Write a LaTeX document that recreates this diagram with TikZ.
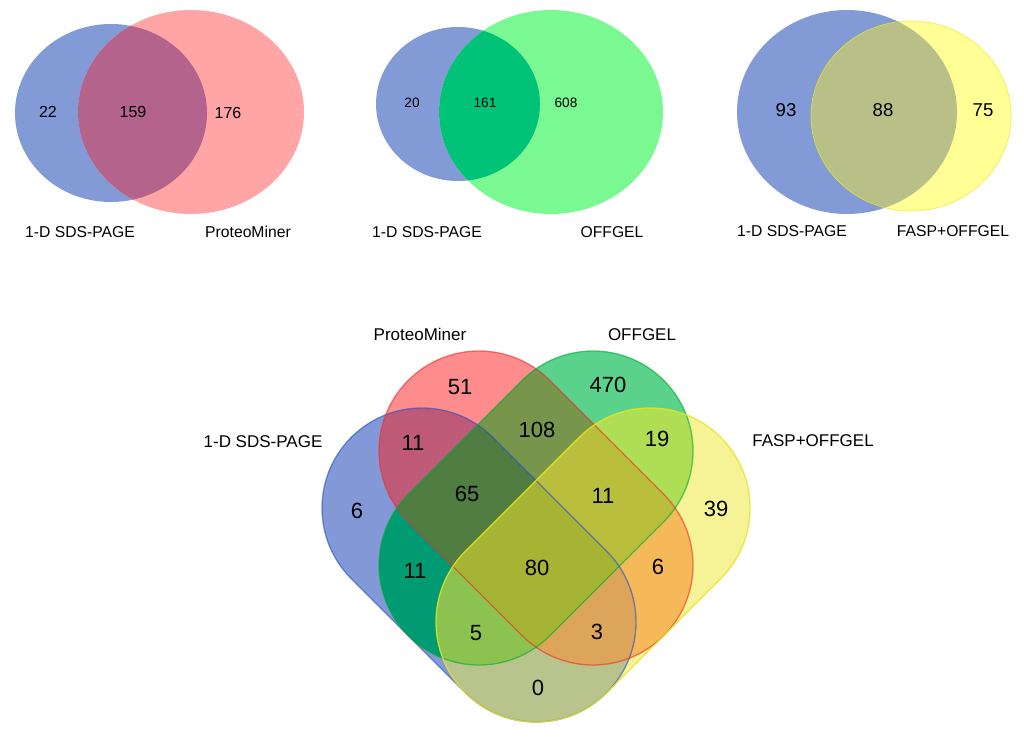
\documentclass[tikz,border=0pt]{standalone}
\usepackage{fontspec}
\setmainfont{Liberation Sans}
\definecolor{cB}{RGB}{130,152,215}
\definecolor{cR}{RGB}{255,140,140}
\definecolor{cG}{RGB}{90,210,140}
\definecolor{cY}{RGB}{246,243,150}
\definecolor{cBR}{RGB}{190,90,120}
\definecolor{cBG}{RGB}{0,155,115}
\definecolor{cBY}{RGB}{185,195,140}
\definecolor{cRG}{RGB}{120,150,75}
\definecolor{cRY}{RGB}{245,185,90}
\definecolor{cGY}{RGB}{175,222,85}
\definecolor{cBRG}{RGB}{80,125,65}
\definecolor{cBRY}{RGB}{220,165,90}
\definecolor{cBGY}{RGB}{140,195,80}
\definecolor{cRGY}{RGB}{185,190,60}
\definecolor{cBRGY}{RGB}{165,180,50}
\definecolor{lB}{RGB}{40,80,200}
\definecolor{lR}{RGB}{235,45,45}
\definecolor{lG}{RGB}{0,170,50}
\definecolor{lY}{RGB}{232,228,30}
% top panels
\definecolor{tB}{RGB}{130,155,215}
\definecolor{tR}{RGB}{255,165,165}
\definecolor{tBR}{RGB}{180,100,140}
\definecolor{tG}{RGB}{122,248,145}
\definecolor{tBG}{RGB}{0,195,120}
\definecolor{tY}{RGB}{255,255,150}
\definecolor{tBY}{RGB}{185,192,135}
\newcommand\shB{(422,508) ++(-45:100) arc[start angle=-45,end angle=-225,radius=100] -- ++(114,114) arc[start angle=135,end angle=-45,radius=100] -- cycle}
\newcommand\shR{(479,451) ++(-45:100) arc[start angle=-45,end angle=-225,radius=100] -- ++(114,114) arc[start angle=135,end angle=-45,radius=100] -- cycle}
\newcommand\shG{(593,451) ++(45:100) arc[start angle=45,end angle=-135,radius=100] -- ++(-114,114) arc[start angle=225,end angle=45,radius=100] -- cycle}
\newcommand\shY{(650,508) ++(45:100) arc[start angle=45,end angle=-135,radius=100] -- ++(-114,114) arc[start angle=225,end angle=45,radius=100] -- cycle}
\newcommand\eBa{(111,113) ellipse[x radius=96,y radius=89]}
\newcommand\eRa{(191,112) ellipse[x radius=113,y radius=102]}
\newcommand\eBb{(458,104) ellipse[x radius=82,y radius=77]}
\newcommand\eGb{(551,112) ellipse[x radius=112,y radius=102]}
\newcommand\eBc{(847,112) ellipse[x radius=110,y radius=102]}
\newcommand\eYc{(911,116) ellipse[x radius=100,y radius=95]}
\begin{document}
\begin{tikzpicture}[x=1pt,y=-1pt,
  lab/.style={font=\fontsize{15.7}{18}\selectfont, inner sep=0pt},
  biglab/.style={font=\fontsize{17}{20}\selectfont, inner sep=0pt},
  num/.style={font=\fontsize{22}{26}\selectfont, inner sep=0pt},
  numa/.style={font=\fontsize{16}{19}\selectfont, inner sep=0pt},
  numb/.style={font=\fontsize{13.6}{16}\selectfont, inner sep=0pt},
  numc/.style={font=\fontsize{18.6}{22}\selectfont, inner sep=0pt},
  outl/.style={line width=1.3pt, draw opacity=0.6}]
\useasboundingbox (0,0) rectangle (1024,738);
\fill[white] (0,0) rectangle (1024,738);

% ---------- panel 1
\fill[tB] \eBa;
\fill[tR] \eRa;
\begin{scope}\clip \eBa; \fill[tBR] \eRa; \end{scope}
\node[numa] (p1a) at (48,112) {22};
\node[numa] (p1b) at (133,112) {159};
\node[numa] (p1c) at (228,113) {176};
\node[lab] (p1l) at (80,232) {1-D SDS-PAGE};
\node[lab] (p1r) at (248,232) {ProteoMiner};

% ---------- panel 2
\fill[tB] \eBb;
\fill[tG] \eGb;
\begin{scope}\clip \eBb; \fill[tBG] \eGb; \end{scope}
\node[numb] (p2a) at (412,103) {20};
\node[numb] (p2b) at (485,103) {161};
\node[numb] (p2c) at (566,103) {608};
\node[lab] (p2l) at (427,232) {1-D SDS-PAGE};
\node[lab] (p2r) at (612,232) {OFFGEL};

% ---------- panel 3
\fill[tB] \eBc;
\fill[tY] \eYc;
\begin{scope}\clip \eBc; \fill[tBY] \eYc; \end{scope}
\draw[lY, line width=0.8pt, draw opacity=0.6] \eYc;
\node[numc] (p3a) at (786,110) {93};
\node[numc] (p3b) at (883,110) {88};
\node[numc] (p3c) at (983,110) {75};
\node[lab] (p3l) at (792,231) {1-D SDS-PAGE};
\node[lab] (p3r) at (953,231) {FASP+OFFGEL};

% ---------- four-set diagram
% singles
\fill[cB] \shB;
\fill[cR] \shR;
\fill[cG] \shG;
\fill[cY] \shY;
% pairs
\begin{scope}\clip \shB; \fill[cBR] \shR; \end{scope}
\begin{scope}\clip \shB; \fill[cBG] \shG; \end{scope}
\begin{scope}\clip \shB; \fill[cBY] \shY; \end{scope}
\begin{scope}\clip \shR; \fill[cRG] \shG; \end{scope}
\begin{scope}\clip \shR; \fill[cRY] \shY; \end{scope}
\begin{scope}\clip \shG; \fill[cGY] \shY; \end{scope}
% triples
\begin{scope}\clip \shB; \clip \shR; \fill[cBRG] \shG; \end{scope}
\begin{scope}\clip \shB; \clip \shR; \fill[cBRY] \shY; \end{scope}
\begin{scope}\clip \shB; \clip \shG; \fill[cBGY] \shY; \end{scope}
\begin{scope}\clip \shR; \clip \shG; \fill[cRGY] \shY; \end{scope}
% all four
\begin{scope}\clip \shB; \clip \shR; \clip \shG; \fill[cBRGY] \shY; \end{scope}
% outlines
\draw[outl, lB] \shB;
\draw[outl, lR] \shR;
\draw[outl, lG] \shG;
\draw[outl, lY, draw opacity=0.8] \shY;

\node[num] (n51) at (460,387) {51};
\node[num] (n470) at (608,385) {470};
\node[num] (n11a) at (413,443) {11};
\node[num] (n108) at (537,430) {108};
\node[num] (n19) at (657,439) {19};
\node[num] (n6a) at (357,511) {6};
\node[num] (n65) at (467,494) {65};
\node[num] (n11b) at (603,496) {11};
\node[num] (n39) at (716,509) {39};
\node[num] (n11c) at (415,571) {11};
\node[num] (n80) at (537,568) {80};
\node[num] (n6b) at (658,567) {6};
\node[num] (n5) at (476,633) {5};
\node[num] (n3) at (597,632) {3};
\node[num] (n0) at (538,688) {0};

\node[biglab] (lPM) at (420,334) {ProteoMiner};
\node[biglab] (lOF) at (642,335) {OFFGEL};
\node[biglab] (lSDS) at (263,442) {1-D SDS-PAGE};
\node[biglab] (lFO) at (813,441) {FASP+OFFGEL};
\end{tikzpicture}
\end{document}
